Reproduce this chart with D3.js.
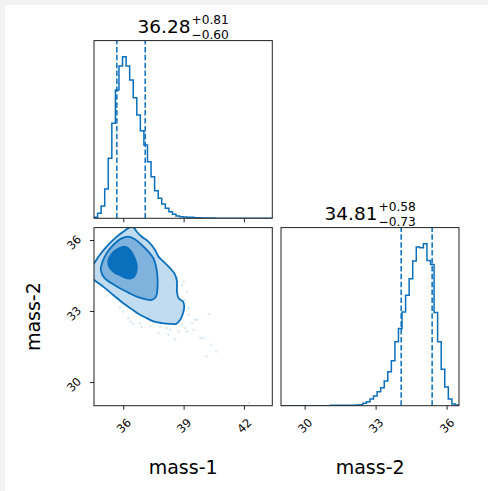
<!DOCTYPE html>
<html><head><meta charset="utf-8">
<script src="https://cdn.jsdelivr.net/npm/d3@7"></script>
<style>
html,body{margin:0;padding:0;background:#f2f2f2;overflow:hidden;}
svg{position:absolute;left:0;top:0;}
text{font-family:"DejaVu Sans",sans-serif;fill:#000;}
</style></head><body>
<svg id="c" width="488" height="491"></svg>
<script>
// ---------------- data ----------------
const paramNames = ["mass-1", "mass-2"];
const mass1Range = [34.544, 43.41];
const mass2Range = [29.0, 36.525];
const nBins = 50;
const mass1Counts = [3,15,37,88,180,285,385,457,485,457,415,362,310,263,220,170,125,83,60,43,30,20,12,7,5,4,3,3,2,2,1,1,1,1,0,0,0,0,0,0,0,0,0,0,0,0,0,0,0,0];
const mass2Counts = [0,0,0,0,0,0,0,0,0,0,0,0,0,0,1,1,1,1,1,1,1,2,3,7,12,20,29,42,54,74,102,135,192,232,282,332,382,435,477,475,487,437,425,280,192,110,56,20,5,2];
const mass1Quantiles = [35.68, 37.09];
const mass2Quantiles = [34.08, 35.39];
const mass1Title = {median: "36.28", plus: "+0.81", minus: "\u22120.60"};
const mass2Title = {median: "34.81", plus: "+0.58", minus: "\u22120.73"};
const mass1Ticks = [36, 39, 42];
const mass2Ticks = [30, 33, 36];

// 2D contours (mass-1, mass-2)
const contourOuter = [[34.25,34.70],[34.55,35.02],[34.83,35.37],[35.17,35.72],[35.58,36.07],[36.00,36.35],[36.25,36.50],[36.45,36.58],[36.67,36.35],[36.92,36.14],[37.25,35.93],[37.58,35.58],[37.75,35.30],[38.00,35.09],[38.33,34.81],[38.58,34.53],[38.67,34.24],[38.67,33.82],[38.75,33.54],[38.97,33.40],[39.03,33.19],[38.97,32.91],[38.83,32.63],[38.63,32.46],[38.33,32.46],[37.92,32.49],[37.50,32.56],[37.17,32.70],[36.83,32.84],[36.42,33.08],[36.00,33.33],[35.50,33.68],[35.00,34.03],[34.55,34.31],[34.25,34.55]];
const contourMiddle = [[34.88,34.74],[34.97,35.09],[35.17,35.44],[35.50,35.79],[35.92,36.07],[36.25,36.14],[36.58,36.03],[36.92,35.79],[37.25,35.51],[37.50,35.23],[37.63,34.88],[37.70,34.46],[37.70,33.96],[37.63,33.61],[37.42,33.47],[37.08,33.50],[36.67,33.61],[36.25,33.78],[35.83,33.96],[35.42,34.17],[35.08,34.38]];
const contourCore = [[35.25,35.09],[35.42,35.41],[35.70,35.61],[36.08,35.72],[36.33,35.58],[36.53,35.30],[36.67,34.95],[36.63,34.60],[36.47,34.41],[36.20,34.38],[35.92,34.48],[35.58,34.62],[35.33,34.83]];
const scatterMass1 = [36.25,36.37,36.50,36.83,36.92,37.33,37.75,38.17,38.25,38.33,38.58,38.75,38.92,39.08,39.17,39.25,39.42,39.50,39.67,39.83,39.97,40.25,40.37,40.13,40.63,42.25,39.00,38.92,39.17,39.08,39.25,37.17,35.17,35.83,36.00,38.42,37.83,39.58];
const scatterMass2 = [32.70,32.56,32.46,32.49,32.32,32.35,32.07,32.28,32.00,32.21,31.81,32.14,32.42,32.28,32.14,32.84,32.49,32.21,32.63,31.86,31.86,32.87,31.58,31.08,31.29,29.12,34.24,34.10,33.82,33.47,33.12,36.03,33.64,33.16,32.98,32.63,32.35,32.63];

// ---------------- style ----------------
const C = "#0a6fbd";
const svg = d3.select("#c");
svg.append("rect").attr("x",5).attr("y",5).attr("width",483).attr("height",486).attr("fill","#fff");

const L0 = 94, L1 = 281, P = 178.3, T0 = 40.6, T1 = 227.6, PH = 178.1;
const x1 = d3.scaleLinear().domain(mass1Range).range([L0, L0+P]);
const x2 = d3.scaleLinear().domain(mass2Range).range([L1, L1+P-0.3]);
const y2 = d3.scaleLinear().domain(mass2Range).range([T1+PH, T1]);
const yh1 = d3.scaleLinear().domain([0, 1.1*d3.max(mass1Counts)]).range([T0+177.7, T0]);
const yh2 = d3.scaleLinear().domain([0, 1.1*d3.max(mass2Counts)]).range([T1+PH, T1]);

const defs = svg.append("defs");
function clip(id,x,y,w,h){ defs.append("clipPath").attr("id",id).append("rect").attr("x",x).attr("y",y).attr("width",w).attr("height",h); return `url(#${id})`; }
const clipA = clip("ca", L0, T0, P, 177.7);
const clipB = clip("cb", L0, T1, P, PH);
const clipD = clip("cd", L1, T1, P-0.3, PH);

function edges(r){ return d3.range(nBins+1).map(i => r[0] + i*(r[1]-r[0])/nBins); }
function stepVerts(counts, r){
  const e = edges(r); const v = [[e[0],0]];
  counts.forEach((c,i)=>{ v.push([e[i],c]); v.push([e[i+1],c]); });
  v.push([e[nBins],0]); return v;
}
function drawHist(counts, r, xs, ys, cl, q){
  const g = svg.append("g").attr("clip-path", cl);
  g.append("path").attr("d", d3.line().x(d=>xs(d[0])).y(d=>ys(d[1]))(stepVerts(counts, r)))
   .attr("fill","none").attr("stroke",C).attr("stroke-width",1.5);
  q.forEach(v => g.append("line").attr("x1",xs(v)).attr("x2",xs(v)).attr("y1",ys.range()[0]).attr("y2",ys.range()[1])
     .attr("stroke",C).attr("stroke-width",1.5).attr("stroke-dasharray","5.5,2.4"));
}
drawHist(mass1Counts, mass1Range, x1, yh1, clipA, mass1Quantiles);
drawHist(mass2Counts, mass2Range, x2, yh2, clipD, mass2Quantiles);

// 2D panel
const g2 = svg.append("g").attr("clip-path", clipB);
g2.selectAll("circle").data(scatterMass1).join("circle")
  .attr("cx", d=>x1(d)).attr("cy",(d,i)=>y2(scatterMass2[i])).attr("r",1.2)
  .attr("fill",C).attr("fill-opacity",0.15);
const cl = d3.line().x(d=>x1(d[0])).y(d=>y2(d[1])).curve(d3.curveCatmullRomClosed.alpha(0.5));
g2.append("path").attr("d", cl(contourOuter)).attr("fill","#c1dbf0");
g2.append("path").attr("d", cl(contourMiddle)).attr("fill","#7fb3de");
g2.append("path").attr("d", cl(contourCore)).attr("fill",C);
[contourOuter, contourMiddle, contourCore].forEach(c =>
  g2.append("path").attr("d", cl(c)).attr("fill","none").attr("stroke",C).attr("stroke-width",1.8));

// spines
[[L0,T0,P,177.7],[L0,T1,P,PH],[L1,T1,P-0.3,PH]].forEach(b =>
  svg.append("rect").attr("x",b[0]).attr("y",b[1]).attr("width",b[2]).attr("height",b[3])
    .attr("fill","none").attr("stroke","#222").attr("stroke-width",1));

// axes
function styleAxis(g){ g.select(".domain").remove(); g.selectAll(".tick line").attr("stroke","#222").attr("stroke-width",1); }
svg.append("g").attr("transform",`translate(0,${T0+177.7})`)
  .call(d3.axisBottom(x1).tickValues(mass1Ticks).tickSize(4).tickFormat("")).call(styleAxis);
function rotLabels(g, tx, ty){
  g.selectAll(".tick text").attr("x",null).attr("y",null).attr("dy","0.35em")
   .attr("text-anchor","middle").attr("font-size","11.5px").attr("font-family","DejaVu Sans").attr("fill","#000")
   .attr("transform",`translate(${tx},${ty}) rotate(-45)`);
}
svg.append("g").attr("transform",`translate(0,${T1+PH})`)
  .call(d3.axisBottom(x1).tickValues(mass1Ticks).tickSize(4).tickFormat(d3.format("d"))).call(styleAxis)
  .call(g=>rotLabels(g,0,20));
svg.append("g").attr("transform",`translate(0,${T1+PH})`)
  .call(d3.axisBottom(x2).tickValues(mass2Ticks).tickSize(4).tickFormat(d3.format("d"))).call(styleAxis)
  .call(g=>rotLabels(g,0,20));
svg.append("g").attr("transform",`translate(${L0},0)`)
  .call(d3.axisLeft(y2).tickValues(mass2Ticks).tickSize(4).tickFormat(d3.format("d"))).call(styleAxis)
  .call(g=>rotLabels(g,-20,2));

// titles (median with stacked super/subscript, like mathtext)
function title(t, cx, top){
  const tx = svg.append("text");
  const m = tx.append("tspan").attr("x",0).attr("y",top-7.4).attr("font-size","18.5px").text(t.median);
  const w1 = m.node().getComputedTextLength();
  const s1 = tx.append("tspan").attr("x",w1+1).attr("y",top-16.4).attr("font-size","12.2px").text(t.plus);
  const s2 = tx.append("tspan").attr("x",w1+1).attr("y",top-2.0).attr("font-size","12.2px").text(t.minus);
  const w2 = Math.max(s1.node().getComputedTextLength(), s2.node().getComputedTextLength());
  tx.attr("transform",`translate(${cx-(w1+1+w2)/2},0)`);
}
title(mass1Title, L0+P/2, T0);
title(mass2Title, L1+P/2, T1);

// axis labels
svg.append("text").attr("x",L0+P/2).attr("y",474.3).attr("text-anchor","middle").attr("font-size","19px").text(paramNames[0]);
svg.append("text").attr("x",L1+P/2).attr("y",474.3).attr("text-anchor","middle").attr("font-size","19px").text(paramNames[1]);
svg.append("text").attr("transform",`translate(40,${T1+PH/2}) rotate(-90)`).attr("text-anchor","middle").attr("font-size","19px").text(paramNames[1]);
</script>
</body></html>
